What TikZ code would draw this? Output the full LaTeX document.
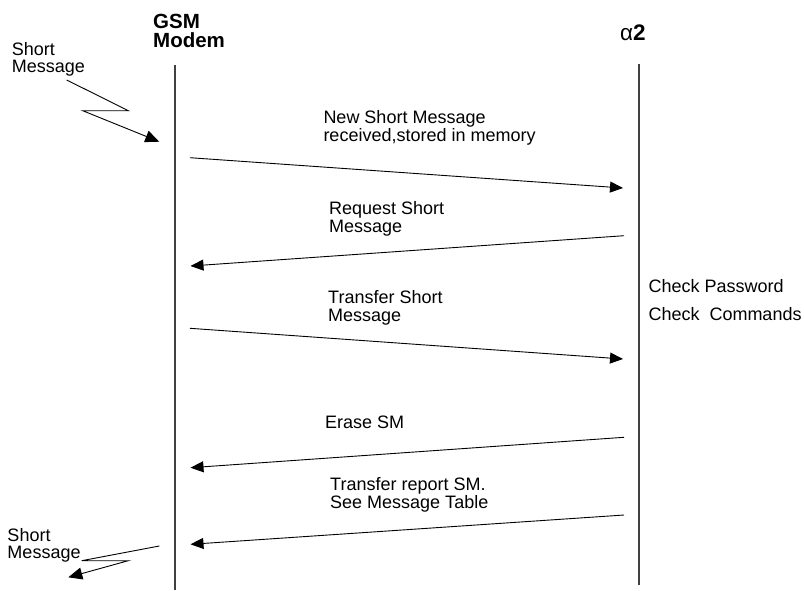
\documentclass[tikz,border=0pt]{standalone}
\usepackage{fontspec}
\setmainfont{Liberation Sans}
\usetikzlibrary{arrows.meta}
\tikzset{
  lbl/.style={anchor=west, inner sep=0pt, align=left, font=\fontsize{18}{18}\selectfont},
  head/.style={anchor=west, inner sep=0pt, align=left, font=\fontsize{20.5}{18.5}\selectfont\bfseries},
  life/.style={line width=1.3pt, draw=black!75},
  msg/.style={line width=0.9pt, -{Triangle[length=13pt,width=11pt]}},
  zig/.style={line width=0.9pt, -{Triangle[length=14pt,width=12pt]}}
}
\begin{document}
\begin{tikzpicture}[x=1pt,y=-1pt]
\useasboundingbox (0,0) rectangle (804,590);
% lifelines
\coordinate (gT) at (175,65);
\coordinate (gB) at (175,590);
\coordinate (aT) at (639,64);
\coordinate (aB) at (639,585);
\draw[life] (gT) -- (gB);
\draw[life] (aT) -- (aB);
% headers
\node[head] (gsm) at (153,30.8) {GSM\\Modem};
\node[anchor=base west, inner sep=0pt, font=\fontsize{22.5}{22}\selectfont] (alpha) at (620,40.7) {α\textbf{2}};
% short message top
\node[lbl, font=\fontsize{18}{17}\selectfont] (smtop) at (11.7,59.8) {Short\\Message};
\coordinate (z1a) at (66.7,80);
\coordinate (z1b) at (128.3,110.7);
\coordinate (z1c) at (82.7,110.7);
\coordinate (z1d) at (159.3,141.7);
\draw[zig] (z1a) -- (z1b) -- (z1c) -- (z1d);
% short message bottom
\node[lbl, font=\fontsize{18}{17}\selectfont] (smbot) at (7.3,545.7) {Short\\Message};
\coordinate (z2a) at (159.3,546);
\coordinate (z2b) at (81.7,560.7);
\coordinate (z2c) at (128.3,560.7);
\coordinate (z2d) at (68.3,577.3);
\draw[zig] (z2a) -- (z2b) -- (z2c) -- (z2d);
% messages
\coordinate (m1s) at (190,157.7);   \coordinate (m1e) at (623,188);
\coordinate (m2s) at (624,235.7);   \coordinate (m2e) at (190.5,266);
\coordinate (m3s) at (190,328.3);   \coordinate (m3e) at (623,359);
\coordinate (m4s) at (624,437.3);   \coordinate (m4e) at (190.5,467.7);
\coordinate (m5s) at (624,515);     \coordinate (m5e) at (190.5,544.3);
\draw[msg] (m1s) -- (m1e);
\draw[msg] (m2s) -- (m2e);
\draw[msg] (m3s) -- (m3e);
\draw[msg] (m4s) -- (m4e);
\draw[msg] (m5s) -- (m5e);
% labels
\node[lbl] (l1) at (323.3,128) {New Short Message\\received,stored in memory};
\node[lbl] (l2) at (329,218.5) {Request Short\\Message};
\node[lbl] (l3) at (328,307.5) {Transfer Short\\Message};
\node[lbl] (l4) at (325,422.5) {Erase SM};
\node[lbl] (l5) at (330,495) {Transfer report SM.\\See Message Table};
\node[lbl, anchor=base west] (cp) at (648.3,292.7) {Check Password};
\node[lbl, anchor=base west] (cc) at (648.3,320) {Check\ \ Commands};
\end{tikzpicture}
\end{document}
